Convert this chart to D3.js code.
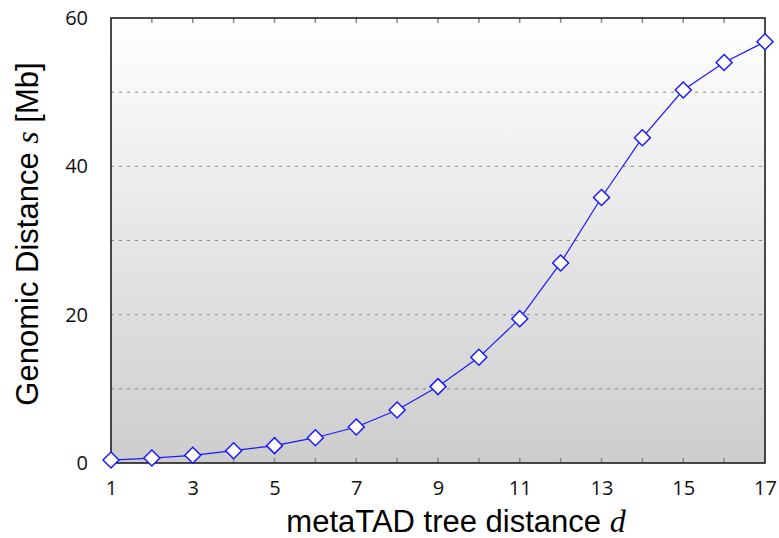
<!DOCTYPE html>
<html><head><meta charset="utf-8">
<script src="https://cdn.jsdelivr.net/npm/d3@7"></script>
<style>body{margin:0;background:#fff;} svg{display:block;}</style>
</head><body>
<svg id="c" width="779" height="538"></svg>
<script>
const treeDistance = [1,2,3,4,5,6,7,8,9,10,11,12,13,14,15,16,17];
const genomicDistance = [0.4,0.67,1.04,1.66,2.34,3.41,4.85,7.15,10.3,14.25,19.46,26.97,35.8,43.86,50.29,54.0,56.8];
const xTickLabels = [1,3,5,7,9,11,13,15,17];
const yTickLabels = [0,20,40,60];
const yGridValues = [10,20,30,40,50];

const svg = d3.select("#c");
const L=111, R=765, T=18, B=463;
const x = d3.scaleLinear().domain([1,17]).range([L,R]);
const y = d3.scaleLinear().domain([0,60]).range([B,T]);

const defs = svg.append("defs");
const g = defs.append("linearGradient").attr("id","bg").attr("x1",0).attr("y1",0).attr("x2",0).attr("y2",1);
g.append("stop").attr("offset","0%").attr("stop-color","#ffffff");
g.append("stop").attr("offset","100%").attr("stop-color","#cdcdcd");

svg.append("rect").attr("x",L).attr("y",T).attr("width",R-L).attr("height",B-T).attr("fill","url(#bg)");

// grid
svg.append("g").selectAll("line").data(yGridValues).join("line")
  .attr("x1",L).attr("x2",R).attr("y1",d=>y(d)).attr("y2",d=>y(d))
  .attr("stroke","#888").attr("stroke-width",1).attr("stroke-dasharray","3,5");

// inner ticks top and bottom
const ticksG = svg.append("g");
ticksG.selectAll("line.b").data(treeDistance.slice(1,-1)).join("line")
  .attr("x1",d=>x(d)).attr("x2",d=>x(d)).attr("y1",B).attr("y2",B-5).attr("stroke","#888").attr("stroke-width",1.5);
ticksG.selectAll("line.t").data(treeDistance.slice(1,-1)).join("line")
  .attr("x1",d=>x(d)).attr("x2",d=>x(d)).attr("y1",T).attr("y2",T+5).attr("stroke","#888").attr("stroke-width",1.5);

// frame
svg.append("rect").attr("x",L).attr("y",T).attr("width",R-L).attr("height",B-T)
  .attr("fill","none").attr("stroke","#111").attr("stroke-width",1.5);

// axes labels via d3 axes
const xAxis = d3.axisBottom(x).tickValues(xTickLabels).tickSize(0).tickPadding(18).tickFormat(d3.format("d"));
const xa = svg.append("g").attr("transform",`translate(0,${B})`).call(xAxis);
xa.select(".domain").remove();
xa.selectAll("text").attr("font-family","'Open Sans', sans-serif").attr("font-size",20).attr("fill","#111");

const yAxis = d3.axisLeft(y).tickValues(yTickLabels).tickSize(0).tickPadding(23).tickFormat(d3.format("d"));
const ya = svg.append("g").attr("transform",`translate(${L},0)`).call(yAxis);
ya.select(".domain").remove();
ya.selectAll("text").attr("font-family","'Open Sans', sans-serif").attr("font-size",20).attr("fill","#111");

// line
const line = d3.line().x((d,i)=>x(treeDistance[i])).y(d=>y(d));
svg.append("path").datum(genomicDistance).attr("d",line).attr("fill","none").attr("stroke","#1a1aff").attr("stroke-width",1.2);

svg.append("g").selectAll("path").data(genomicDistance).join("path")
  .attr("transform",(d,i)=>`translate(${x(treeDistance[i])},${y(d)})`)
  .attr("d","M0,-8L8,0L0,8L-8,0Z")
  .attr("fill","#fff").attr("stroke","#1a1aff").attr("stroke-width",1.5);

// titles
const xt = svg.append("text").attr("x",456).attr("y",532).attr("text-anchor","middle")
  .attr("font-family","'Liberation Sans', Arial, sans-serif").attr("font-size",31).attr("fill","#000");
xt.append("tspan").text("metaTAD tree distance ");
xt.append("tspan").attr("font-family","'Liberation Serif', serif").attr("font-style","italic").attr("font-size",32).text("d");

const yt = svg.append("text").attr("transform","translate(38,234) rotate(-90)").attr("text-anchor","middle")
  .attr("font-family","'Liberation Sans', Arial, sans-serif").attr("font-size",31).attr("fill","#000");
yt.append("tspan").text("Genomic Distance ");
yt.append("tspan").attr("font-family","'Liberation Serif', serif").attr("font-style","italic").attr("font-size",32).text("s");
yt.append("tspan").text(" [Mb]");
</script>
</body></html>
